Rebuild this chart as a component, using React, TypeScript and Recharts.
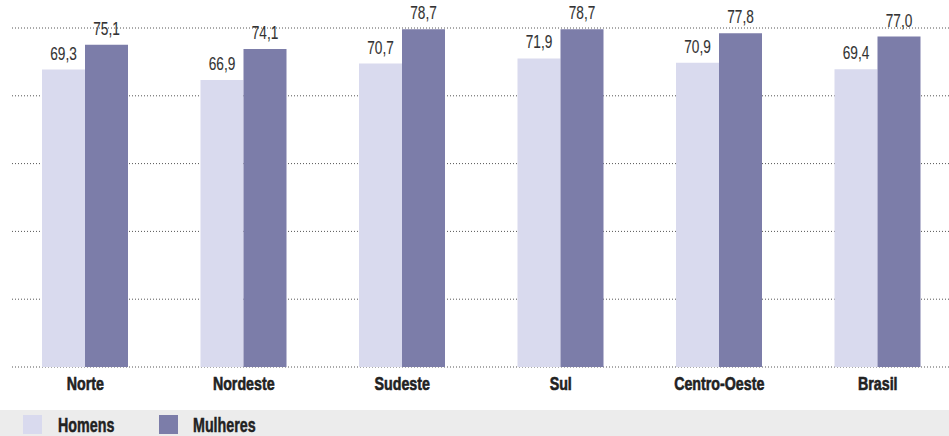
import React from "react";
import {
  BarChart,
  Bar,
  XAxis,
  YAxis,
  CartesianGrid,
  LabelList,
} from "recharts";

const categories = ["Norte", "Nordeste", "Sudeste", "Sul", "Centro-Oeste", "Brasil"];
const homens = [69.3, 66.9, 70.7, 71.9, 70.9, 69.4];
const mulheres = [75.1, 74.1, 78.7, 78.7, 77.8, 77.0];
const gridTicks = [0, 15.8, 31.6, 47.4, 63.2, 79];

const seriesNames = ["Homens", "Mulheres"];
const seriesColors = ["#d9daee", "#7c7da9"];

const FONT = '"Liberation Sans", Arial, sans-serif';

const data = categories.map((name, i) => ({
  name,
  homens: homens[i],
  mulheres: mulheres[i],
}));

const fmt = (v: number) => v.toFixed(1).replace(".", ",");

function GridLine(props: any) {
  const { x1, x2, y1, y2 } = props;
  return (
    <line
      x1={x1 + 6}
      x2={x2}
      y1={y1}
      y2={y2}
      stroke="#555"
      strokeWidth={1}
      strokeDasharray="1 2"
    />
  );
}

// condensed look: the reference uses a narrow face, so squeeze Liberation Sans
function CategoryTick(props: any) {
  const { x, y, payload } = props;
  return (
    <text
      transform={`translate(${x},${y + 15}) scale(0.75,1)`}
      textAnchor="middle"
      fontFamily={FONT}
      fontSize={19}
      fontWeight={700}
      fill="#222"
      stroke="#222"
      strokeWidth={0.6}
    >
      {payload.value}
    </text>
  );
}

function ValueLabel(props: any) {
  const { x, y, width, value } = props;
  return (
    <text
      transform={`translate(${x + width / 2},${y - 10}) scale(0.76,1)`}
      textAnchor="middle"
      fontFamily={FONT}
      fontSize={18}
      fill="#333"
      stroke="#333"
      strokeWidth={0.1}
    >
      {fmt(Number(value))}
    </text>
  );
}

export default function App() {
  return (
    <div
      style={{
        position: "absolute",
        left: 0,
        top: 0,
        width: 949,
        height: 436,
        overflow: "hidden",
        background: "#fff",
        fontFamily: FONT,
      }}
    >
      <BarChart
        width={958}
        height={410}
        data={data}
        margin={{ top: 28, right: 1, bottom: 13, left: 6 }}
        barCategoryGap={36}
        barGap={0}
      >
        <CartesianGrid vertical={false} horizontal={(p: any) => <GridLine key={p.key ?? p.index} {...p} />} />
        <YAxis hide domain={[0, 79]} ticks={gridTicks} />
        <XAxis
          dataKey="name"
          axisLine={false}
          tickLine={false}
          height={30}
          interval={0}
          tick={<CategoryTick />}
        />
        <Bar dataKey="homens" fill={seriesColors[0]} isAnimationActive={false}>
          <LabelList dataKey="homens" content={<ValueLabel />} />
        </Bar>
        <Bar dataKey="mulheres" fill={seriesColors[1]} isAnimationActive={false}>
          <LabelList dataKey="mulheres" content={<ValueLabel />} />
        </Bar>
      </BarChart>
      <div
        style={{
          position: "absolute",
          left: 0,
          top: 410,
          width: 949,
          height: 26,
          background: "#ececec",
        }}
      >
        {seriesNames.map((name, i) => (
          <div
            key={name}
            style={{
              position: "absolute",
              left: i === 0 ? 23 : 159,
              top: 5,
              height: 19,
            }}
          >
            <span
              style={{
                position: "absolute",
                left: 0,
                top: 0,
                width: 19,
                height: 19,
                background: seriesColors[i],
              }}
            />
            <span
              style={{
                position: "absolute",
                left: i === 0 ? 35 : 34,
                top: -2,
                fontSize: 21,
                fontWeight: 700,
                color: "#222",
                lineHeight: "24px",
                whiteSpace: "nowrap",
                transform: "scaleX(0.68)",
                transformOrigin: "left center",
                WebkitTextStroke: "0.5px #222",
              }}
            >
              {name}
            </span>
          </div>
        ))}
      </div>
    </div>
  );
}
